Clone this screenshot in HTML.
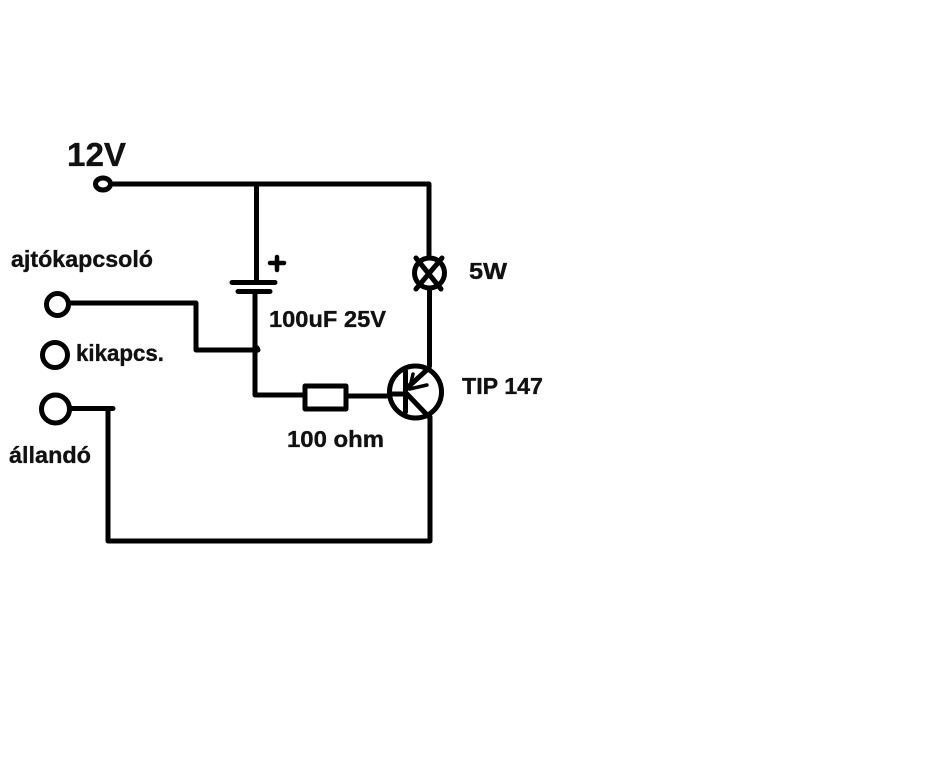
<!DOCTYPE html>
<html>
<head>
<meta charset="utf-8">
<style>
html,body{margin:0;padding:0;background:#fff;width:952px;height:768px;overflow:hidden}
svg{display:block}
text{font-family:"Liberation Sans",sans-serif;font-weight:bold;fill:#111;stroke:#111;stroke-width:.35px}
</style>
</head>
<body>
<svg width="952" height="768" viewBox="0 0 952 768" xmlns="http://www.w3.org/2000/svg">
<rect width="952" height="768" fill="#fff"/>
<g fill="none" stroke="#000" stroke-width="5" stroke-linecap="round" stroke-linejoin="round">
  <!-- top rail -->
  <ellipse cx="103" cy="184" rx="7.500" ry="6"/>
  <path d="M111 184H429V256"/>
  <!-- capacitor -->
  <path d="M256.500 184V282"/>
  <path d="M232 282.500H275"/>
  <path d="M238 291.500H270"/>
  <path d="M255 292V395H303"/>
  <circle cx="256" cy="349" r="1.500"/>
  <!-- ajtokapcsolo -->
  <circle cx="57.500" cy="304.500" r="11"/>
  <path d="M70 303H196V350H258"/>
  <!-- kikapcs -->
  <circle cx="55" cy="355" r="12.500"/>
  <!-- allando -->
  <circle cx="55.500" cy="409" r="14"/>
  <path d="M70 408.500H113"/>
  <path d="M108 409V541H429"/>
  <!-- lamp -->
  <circle cx="429.500" cy="273" r="15"/>
  <path d="M416 258L441 289M442 258L416 289"/>
  <path d="M429.500 288V366"/>
  <!-- resistor -->
  <rect x="305" y="386" width="41" height="23"/>
  <path d="M347 396H388"/>
  <!-- transistor -->
  <circle cx="415.500" cy="392" r="26"/>
  <path d="M405.500 371V412" stroke-width="5"/>
  <path d="M390 394H405"/>
  <path d="M407 388L429 368"/>
  <path d="M413 374L409.500 389L427 385" stroke-width="3.500"/>
  <path d="M406 393L429 417"/>
  <path d="M430 417V541"/>
  <!-- plus sign -->
  <path d="M270 263H284M277 257V270" stroke-width="4.500"/>
</g>
<text x="67" y="166" font-size="33" textLength="59" lengthAdjust="spacingAndGlyphs">12V</text>
<text x="11" y="267" font-size="23" textLength="142" lengthAdjust="spacingAndGlyphs">ajtókapcsoló</text>
<text x="76" y="361" font-size="23" textLength="88" lengthAdjust="spacingAndGlyphs">kikapcs.</text>
<text x="9" y="463" font-size="23" textLength="82" lengthAdjust="spacingAndGlyphs">állandó</text>
<text x="469" y="279" font-size="23" textLength="38" lengthAdjust="spacingAndGlyphs">5W</text>
<text x="269" y="327" font-size="23" textLength="117" lengthAdjust="spacingAndGlyphs">100uF 25V</text>
<text x="462" y="394" font-size="23" textLength="81" lengthAdjust="spacingAndGlyphs">TIP 147</text>
<text x="287" y="447" font-size="23" textLength="97" lengthAdjust="spacingAndGlyphs">100 ohm</text>
</svg>
</body>
</html>
